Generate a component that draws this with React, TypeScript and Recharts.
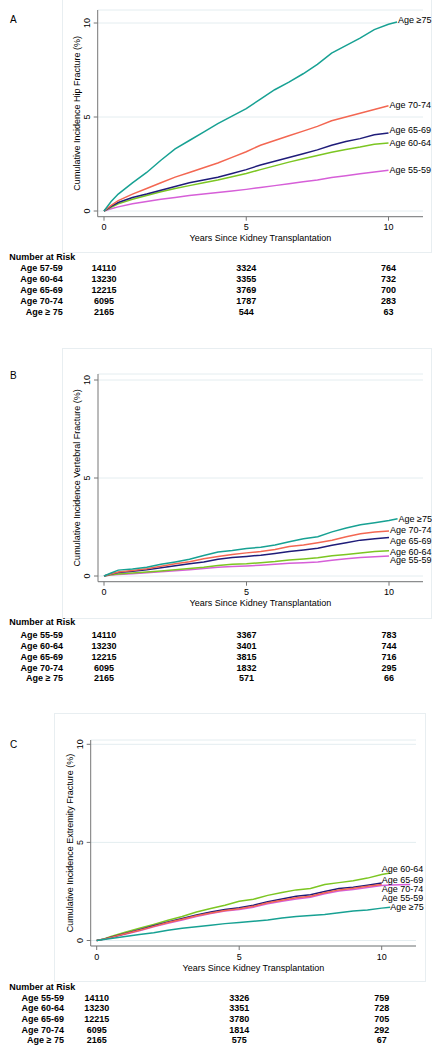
import React from "react";
import { LineChart, Line, XAxis, YAxis, CartesianGrid } from "recharts";

const FONT = '"Liberation Sans", Arial, Helvetica, sans-serif';
const AXIS = "#777777";
const GRID = "#e4edf0";
const FRAME = "#e8eef1";

const GROUPS = ["Age 55-59", "Age 60-64", "Age 65-69", "Age 70-74", "Age ≥75"];
const COLORS = ["#d65fd8", "#7cc622", "#1f1c79", "#f36752", "#17a193"];

// years since transplant (shared grid, null = curve ended)
const YEARS = [0, 0.25, 0.5, 1, 1.5, 2, 2.5, 3, 3.5, 4, 4.5, 5, 5.5, 6, 6.5, 7, 7.5, 8, 8.5, 9, 9.5, 10, 10.3, 11];
const X_TICKS = [0, 5, 10];
const Y_TICKS = [0, 5, 10];

// A: hip fracture (%)
const HIP_5559 = [0, 0.12, 0.22, 0.38, 0.5, 0.62, 0.72, 0.82, 0.9, 0.98, 1.06, 1.15, 1.25, 1.35, 1.45, 1.55, 1.65, 1.78, 1.88, 1.98, 2.08, 2.17, null, null];
const HIP_6064 = [0, 0.2, 0.38, 0.62, 0.82, 1.02, 1.2, 1.35, 1.5, 1.65, 1.82, 2.0, 2.2, 2.4, 2.6, 2.78, 2.95, 3.12, 3.27, 3.4, 3.55, 3.62, null, null];
const HIP_6569 = [0, 0.25, 0.45, 0.72, 0.9, 1.1, 1.3, 1.5, 1.65, 1.8, 2.0, 2.2, 2.45, 2.65, 2.85, 3.05, 3.25, 3.5, 3.7, 3.85, 4.05, 4.15, null, null];
const HIP_7074 = [0, 0.3, 0.55, 0.9, 1.2, 1.5, 1.8, 2.05, 2.3, 2.55, 2.85, 3.15, 3.5, 3.75, 4.0, 4.25, 4.5, 4.8, 5.0, 5.2, 5.4, 5.6, null, null];
const HIP_75 = [0, 0.5, 0.9, 1.5, 2.05, 2.7, 3.3, 3.75, 4.2, 4.65, 5.05, 5.45, 5.95, 6.45, 6.85, 7.3, 7.8, 8.4, 8.8, 9.2, 9.65, 9.93, 10.05, null];

// B: vertebral fracture (%)
const VERT_5559 = [0, 0.05, 0.08, 0.12, 0.17, 0.22, 0.27, 0.32, 0.38, 0.45, 0.48, 0.51, 0.55, 0.6, 0.65, 0.68, 0.72, 0.8, 0.88, 0.95, 0.98, 1.02, null, null];
const VERT_6064 = [0, 0.06, 0.1, 0.15, 0.2, 0.26, 0.32, 0.38, 0.45, 0.54, 0.6, 0.63, 0.68, 0.74, 0.82, 0.87, 0.93, 1.03, 1.1, 1.17, 1.25, 1.29, null, null];
const VERT_6569 = [0, 0.1, 0.18, 0.24, 0.32, 0.42, 0.52, 0.62, 0.72, 0.86, 0.94, 1.0, 1.06, 1.15, 1.25, 1.33, 1.42, 1.57, 1.7, 1.83, 1.9, 1.96, null, null];
const VERT_7074 = [0, 0.1, 0.2, 0.28, 0.37, 0.5, 0.62, 0.73, 0.88, 1.0, 1.1, 1.18, 1.25, 1.35, 1.5, 1.58, 1.7, 1.82, 2.0, 2.15, 2.25, 2.3, null, null];
const VERT_75 = [0, 0.15, 0.3, 0.36, 0.45, 0.6, 0.72, 0.85, 1.05, 1.22, 1.3, 1.4, 1.47, 1.58, 1.75, 1.9, 2.0, 2.25, 2.45, 2.62, 2.72, 2.83, 2.92, null];

// C: extremity fracture (%)
const EXT_5559 = [0, 0.06, 0.15, 0.32, 0.5, 0.7, 0.88, 1.04, 1.22, 1.37, 1.5, 1.58, 1.7, 1.87, 2.0, 2.12, 2.2, 2.38, 2.52, 2.6, 2.7, 2.8, 2.83, 2.86];
const EXT_6064 = [0, 0.08, 0.2, 0.42, 0.62, 0.82, 1.03, 1.22, 1.45, 1.63, 1.8, 2.0, 2.1, 2.3, 2.45, 2.58, 2.65, 2.85, 2.95, 3.05, 3.18, 3.36, 3.44, null];
const EXT_6569 = [0, 0.07, 0.17, 0.36, 0.55, 0.75, 0.95, 1.12, 1.3, 1.45, 1.58, 1.67, 1.8, 1.98, 2.12, 2.25, 2.33, 2.5, 2.65, 2.72, 2.82, 2.93, null, null];
const EXT_7074 = [0, 0.07, 0.16, 0.34, 0.52, 0.72, 0.92, 1.08, 1.26, 1.4, 1.53, 1.62, 1.74, 1.92, 2.05, 2.18, 2.26, 2.43, 2.58, 2.66, 2.76, 2.86, null, null];
const EXT_75 = [0, 0.05, 0.1, 0.2, 0.3, 0.4, 0.52, 0.62, 0.7, 0.78, 0.86, 0.92, 0.98, 1.05, 1.15, 1.22, 1.28, 1.33, 1.42, 1.5, 1.56, 1.65, 1.7, null];

// number at risk
const RISK_YEARS = [0, 5, 10];
const RISK_ROWS_A = ["Age 57-59", "Age 60-64", "Age 65-69", "Age 70-74", "Age ≥ 75"];
const RISK_ROWS = ["Age 55-59", "Age 60-64", "Age 65-69", "Age 70-74", "Age ≥ 75"];
const RISK_A = [[14110, 3324, 764], [13230, 3355, 732], [12215, 3769, 700], [6095, 1787, 283], [2165, 544, 63]];
const RISK_B = [[14110, 3367, 783], [13230, 3401, 744], [12215, 3815, 716], [6095, 1832, 295], [2165, 571, 66]];
const RISK_C = [[14110, 3326, 759], [13230, 3351, 728], [12215, 3780, 705], [6095, 1814, 292], [2165, 575, 67]];

const PANELS = [
  {
    letter: "A", letterY: 21,
    yTitle: "Cumulative Incidence Hip Fracture (%)",
    series: [HIP_5559, HIP_6064, HIP_6569, HIP_7074, HIP_75],
    labelOff: [[1, 0], [1, 0], [1, -3], [1, -1], [1, -2]],
    box: { x: 62, y: -1, w: 370, h: 254 },
    plot: { l: 97.7, t: 10, r: 423, b: 216.7 },
    x0: 104, x10: 388.5, y0: 211, y10: 23,
    riskRows: RISK_ROWS_A, risk: RISK_A,
    table: { header: 256.7, row0: 268.3, step: 10.85, right: 62.7 },
  },
  {
    letter: "B", letterY: 377,
    yTitle: "Cumulative Incidence Vertebral Fracture (%)",
    series: [VERT_5559, VERT_6064, VERT_6569, VERT_7074, VERT_75],
    labelOff: [[1, 4], [1, 1], [1, 3], [1, -1], [1, 0]],
    box: { x: 62, y: 348, w: 370, h: 271 },
    plot: { l: 98, t: 374, r: 423, b: 581.7 },
    x0: 104, x10: 389, y0: 576, y10: 380,
    riskRows: RISK_ROWS, risk: RISK_B,
    table: { header: 622.3, row0: 635, step: 10.85, right: 63 },
  },
  {
    letter: "C", letterY: 746,
    yTitle: "Cumulative Incidence Extremity Fracture (%)",
    series: [EXT_5559, EXT_6064, EXT_6569, EXT_7074, EXT_75],
    labelOff: [[-28.5, 14], [-8.6, -4], [0, -3], [0, 5], [0, 0]],
    box: { x: 54, y: 713, w: 372, h: 269 },
    plot: { l: 90.7, t: 740, r: 416, b: 946 },
    x0: 96.7, x10: 381.7, y0: 940.5, y10: 744.3,
    riskRows: RISK_ROWS, risk: RISK_C,
    table: { header: 986.7, row0: 997.7, step: 10.6, right: 64 },
  },
];

const AxisText = ({ tx, ty, rot, children }: any) => (
  <text
    x={tx}
    y={ty}
    transform={rot ? `rotate(-90 ${tx} ${ty})` : undefined}
    textAnchor="middle"
    fontSize={9}
    fontFamily={FONT}
    fill="#000"
  >
    {children}
  </text>
);

function Panel({ p }: { p: any }) {
  const { box, plot } = p;
  const L = plot.l - box.x;
  const T = plot.t - box.y;
  const R = plot.r - box.x;
  const B = plot.b - box.y;
  const xppu = (p.x10 - p.x0) / 10;
  const yppu = (p.y0 - p.y10) / 10;
  const xDomain = [(plot.l - p.x0) / xppu, (plot.r - p.x0) / xppu];
  const yDomain = [(p.y0 - plot.b) / yppu, (p.y0 - plot.t) / yppu];
  const YW = 20;
  const XH = 20;

  const rows = YEARS.map((t, i) => {
    const r: any = { t };
    p.series.forEach((s: any[], k: number) => (r["s" + k] = s[i]));
    return r;
  });

  return (
    <>
      <div
        style={{
          position: "absolute", left: box.x, top: box.y, width: box.w, height: box.h,
          border: `1px solid ${FRAME}`, boxSizing: "border-box",
        }}
      />
      <div style={{ position: "absolute", left: 10, top: p.letterY - 7, fontSize: 10, fontFamily: FONT }}>
        {p.letter}
      </div>
      <div style={{ position: "absolute", left: box.x, top: box.y }}>
        <LineChart
          width={box.w}
          height={box.h}
          data={rows}
          margin={{ left: L - YW, top: T, right: box.w - R, bottom: box.h - B - XH }}
        >
          <CartesianGrid horizontal vertical={false} stroke={GRID} strokeWidth={1} />
          <XAxis
            dataKey="t"
            type="number"
            domain={xDomain}
            ticks={X_TICKS}
            height={XH}
            stroke={AXIS}
            tickSize={4}
            tick={(tp: any) => (
              <AxisText tx={tp.x} ty={B + 13.7}>{tp.payload.value}</AxisText>
            )}
            label={<AxisText tx={(L + R) / 2} ty={B + 24.6}>Years Since Kidney Transplantation</AxisText>}
          />
          <YAxis
            type="number"
            domain={yDomain}
            ticks={Y_TICKS}
            width={YW}
            stroke={AXIS}
            tickSize={4}
            tick={(tp: any) => (
              <AxisText tx={L - 7.8} ty={tp.y} rot>{tp.payload.value}</AxisText>
            )}
            label={<AxisText tx={L - 17.8} ty={(T + B) / 2} rot>{p.yTitle}</AxisText>}
          />
          {p.series.map((s: any[], k: number) => {
            const last = s.reduce((m: number, v: any, i: number) => (v != null ? i : m), 0);
            const [dx, dy] = p.labelOff[k];
            return (
              <Line
                key={k}
                dataKey={"s" + k}
                stroke={COLORS[k]}
                strokeWidth={1.5}
                type="linear"
                isAnimationActive={false}
                activeDot={false}
                dot={(d: any) =>
                  d.index === last ? (
                    <text
                      key={`lbl-${k}`}
                      x={d.cx + dx}
                      y={d.cy + dy}
                      dominantBaseline="central"
                      fontSize={9}
                      fontFamily={FONT}
                      fill="#000"
                    >
                      {GROUPS[k]}
                    </text>
                  ) : (
                    <g key={`d-${k}-${d.index}`} />
                  )
                }
              />
            );
          })}
        </LineChart>
      </div>
      <svg
        width={438}
        height={1050}
        style={{ position: "absolute", left: 0, top: 0, pointerEvents: "none" }}
      >
        <text x={9.3} y={p.table.header} dominantBaseline="central" fontSize={9} fontWeight="bold" fontFamily={FONT}>
          Number at Risk
        </text>
        {p.riskRows.map((lab: string, i: number) => (
          <g key={lab + i}>
            <text
              x={p.table.right}
              y={p.table.row0 + i * p.table.step}
              textAnchor="end"
              dominantBaseline="central"
              fontSize={9}
              fontWeight="bold"
              fontFamily={FONT}
            >
              {lab}
            </text>
            {p.risk[i].map((n: number, j: number) => (
              <text
                key={j}
                x={p.x0 + RISK_YEARS[j] * xppu}
                y={p.table.row0 + i * p.table.step}
                textAnchor="middle"
                dominantBaseline="central"
                fontSize={9}
                fontWeight="bold"
                fontFamily={FONT}
              >
                {n}
              </text>
            ))}
          </g>
        ))}
      </svg>
    </>
  );
}

export default function App() {
  return (
    <div style={{ position: "absolute", left: 0, top: 0, width: 438, height: 1050, background: "#fff", overflow: "hidden" }}>
      {PANELS.map((p) => (
        <Panel key={p.letter} p={p} />
      ))}
    </div>
  );
}
